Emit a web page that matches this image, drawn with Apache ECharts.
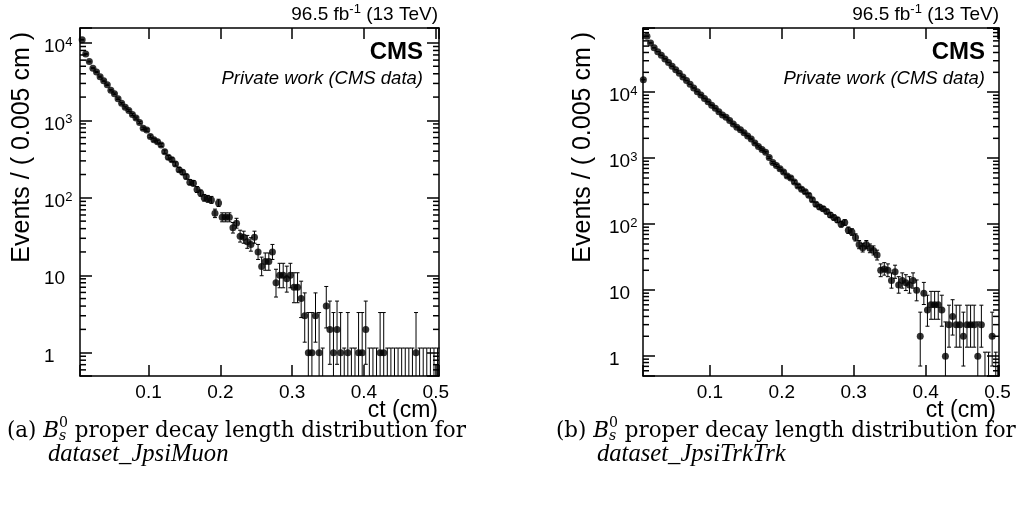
<!DOCTYPE html>
<html>
<head>
<meta charset="utf-8">
<script src="https://cdn.jsdelivr.net/npm/echarts@6.0.0/dist/echarts.min.js"></script>
<style>
html,body{margin:0;padding:0;background:#fff;}
#chart{width:1017px;height:505px;}
</style>
</head>
<body>
<div id="chart"></div>
<script>
// ---------------- data ----------------
const binCenters = [
  0.0075,0.0125,0.0175,0.0225,0.0275,0.0325,0.0375,0.0425,0.0475,0.0525,
  0.0575,0.0625,0.0675,0.0725,0.0775,0.0825,0.0875,0.0925,0.0975,0.1025,
  0.1075,0.1125,0.1175,0.1225,0.1275,0.1325,0.1375,0.1425,0.1475,0.1525,
  0.1575,0.1625,0.1675,0.1725,0.1775,0.1825,0.1875,0.1925,0.1975,0.2025,
  0.2075,0.2125,0.2175,0.2225,0.2275,0.2325,0.2375,0.2425,0.2475,0.2525,
  0.2575,0.2625,0.2675,0.2725,0.2775,0.2825,0.2875,0.2925,0.2975,0.3025,
  0.3075,0.3125,0.3175,0.3225,0.3275,0.3325,0.3375,0.3425,0.3475,0.3525,
  0.3575,0.3625,0.3675,0.3725,0.3775,0.3825,0.3875,0.3925,0.3975,0.4025,
  0.4075,0.4125,0.4175,0.4225,0.4275,0.4325,0.4375,0.4425,0.4475,0.4525,
  0.4575,0.4625,0.4675,0.4725,0.4775,0.4825,0.4875,0.4925,0.4975,0.5025
];
const countsJpsiMuon = [
  11000,7200,5750,4730,4220,3670,3240,2880,2450,2210,
  1905,1660,1480,1340,1190,1070,940,790,750,621,
  563,530,481,394,333,311,274,231,214,188,
  159,154,128,115,100,97,94,63,86,56,
  56,56,41,47,32,31,27,25,31,20,
  13,15,15,20,8,10,10,9,10,7,
  7,5,3,1,1,3,1,0,4,2,
  1,2,1,0,1,0,0,1,1,2,
  0,0,0,1,1,0,0,0,0,0,
  0,0,0,1,0,0,0,0,0,0
];
const countsJpsiTrkTrk = [
  15500,70500,55800,47000,41200,36300,32000,28200,24800,21900,
  19300,17000,15000,13200,11600,10200,9080,8050,7160,6370,
  5690,5070,4520,4170,3720,3310,2950,2690,2430,2160,
  1950,1700,1510,1350,1230,1020,860,776,692,617,
  537,501,436,380,339,309,275,234,200,182,
  171,155,138,126,116,100,106,81,76,63,
  49,44,49,43,40,34,20,21,20,14,
  19,12,14,13,12,14,10,2,9,5,
  6,6,6,5,1,3,4,3,3,2,
  3,3,3,1,3,0,0,2,0,0
];
const xTickLabels = ['0.1','0.2','0.3','0.4','0.5'];
const yMajorTicks = [1, 10, 100, 1000, 10000];
const yMinorTicksMuon = [0.6,0.7,0.8,0.9,2,3,4,5,6,7,8,9,20,30,40,50,60,70,80,90,
  200,300,400,500,600,700,800,900,2000,3000,4000,5000,6000,7000,8000,9000];
const yMinorTicksTrk = [0.6,0.7,0.8,0.9,2,3,4,5,6,7,8,9,20,30,40,50,60,70,80,90,
  200,300,400,500,600,700,800,900,2000,3000,4000,5000,6000,7000,8000,9000,
  20000,30000,40000,50000,60000,70000,80000,90000];
// 68% Poisson intervals for small counts (RooFit convention for n = 0)
const poissonLo = [0, 0.173, 0.708, 1.367, 2.086, 2.840, 3.620, 4.419, 5.232, 6.057, 6.891];
const poissonHi = [1.148, 3.300, 4.638, 5.918, 7.163, 8.383, 9.584, 10.77, 11.95, 13.11, 14.27];

// ---------------- helpers ----------------
const SANS = '"Liberation Sans", Arial, Helvetica, sans-serif';
const SERIF = '"DejaVu Serif", "Liberation Serif", serif';
const SERIF2 = '"Liberation Serif", "DejaVu Serif", serif';
function errLo(n){ return n <= 10 ? poissonLo[n] : n + 0.5 - Math.sqrt(n + 0.25); }
function errHi(n){ return n <= 10 ? poissonHi[n] : n + 0.5 + Math.sqrt(n + 0.25); }

const mctx = document.createElement('canvas').getContext('2d');
function tw(t, f){ mctx.font = f; return mctx.measureText(t).width; }
function fnt(size, fam, opt){ opt = opt || {}; return (opt.italic ? 'italic ' : '') + (opt.bold ? 'bold ' : '') + size.toFixed(2) + 'px ' + fam; }
function lineWidth(segs){
  let gStart = 0, gW = 0;
  segs.forEach(s => { const w = tw(s.text, s.font); if (s.stack) gW = Math.max(gW, w); else { gStart += gW; gW = w; } });
  return gStart + gW;
}
function layoutLine(segs, x, y, align){
  let gStart = 0, gW = 0; const placed = [];
  segs.forEach(s => {
    const w = tw(s.text, s.font);
    if (s.stack) { placed.push([s, gStart]); gW = Math.max(gW, w); }
    else { gStart = gStart + gW; gW = w; placed.push([s, gStart]); }
  });
  const total = gStart + gW;
  const x0 = align === 'right' ? x - total : (align === 'center' ? x - total / 2 : x);
  return placed.map(([s, off]) => ({
    type: 'text', x: x0 + off, y: y + (s.dy || 0), silent: true,
    style: { text: s.text, font: s.font, fill: '#000', align: 'left', verticalAlign: 'middle',
             textAlign: 'left', textVerticalAlign: 'middle' }
  }));
}

// ---------------- panels ----------------
const panels = [
  { grid: {left: 80, top: 28, width: 359, height: 348}, xMin: 0.0045, xMax: 0.5045, yMin: 0.5, yMax: 15600,
    counts: countsJpsiMuon, minor: yMinorTicksMuon, labelMargin: 36 },
  { grid: {left: 643, top: 28, width: 356, height: 348}, xMin: 0.007, xMax: 0.502, yMin: 0.5, yMax: 94000,
    counts: countsJpsiTrkTrk, minor: yMinorTicksTrk, labelMargin: 34 }
];

const grids = [], xAxes = [], yAxes = [], series = [];
const axLine = {color: '#000', width: 1.5};
panels.forEach((p, i) => {
  grids.push(Object.assign({containLabel: false}, p.grid));
  const xBase = { gridIndex: i, type: 'value', min: p.xMin, max: p.xMax, splitNumber: 5,
    splitLine: {show: false}, axisLine: {show: true, onZero: false, lineStyle: axLine},
    axisTick: {show: true, inside: true, length: 11, lineStyle: axLine} };
  xAxes.push(Object.assign({}, xBase, { position: 'bottom',
    axisLabel: { show: true, color: '#000', fontFamily: SANS, fontSize: 19, margin: 7,
      formatter: v => { const s = v.toFixed(1); return (xTickLabels.indexOf(s) >= 0 && Math.abs(v - parseFloat(s)) < 1e-9) ? s : ''; } } }));
  xAxes.push(Object.assign({}, xBase, { position: 'top', axisLabel: {show: false} }));
  const yBase = { gridIndex: i, type: 'log', logBase: 10, min: p.yMin, max: p.yMax, splitNumber: 5,
    splitLine: {show: false}, axisLine: {show: true, onZero: false, lineStyle: axLine},
    axisTick: {show: true, inside: true, length: 12, lineStyle: axLine} };
  yAxes.push(Object.assign({}, yBase, { position: 'left',
    axisLabel: { show: true, color: '#000', fontFamily: SANS, fontSize: 19, align: 'left', margin: p.labelMargin,
      padding: [8, 0, 0, 0],
      formatter: v => {
        const m = yMajorTicks.find(t => Math.abs(v / t - 1) < 1e-6);
        if (m === undefined) return '';
        const e = Math.round(Math.log10(m));
        if (e === 0) return '1';
        if (e === 1) return '10';
        return '10{sup|' + e + '}';
      },
      rich: { sup: { fontSize: 13, fontFamily: SANS, color: '#000', padding: [0, 0, 9, 0] } } } }));
  yAxes.push(Object.assign({}, yBase, { position: 'right', axisLabel: {show: false} }));

  const xi = i * 2, yi = i * 2;
  const pts = [], errs = [];
  p.counts.forEach((n, k) => {
    const x = binCenters[k];
    if (x < p.xMin || x > p.xMax) return;
    if (n > 0) pts.push([x, n]);
    const lo = errLo(n), hi = errHi(n);
    errs.push([x, Math.max(lo, p.yMin), Math.min(hi, p.yMax), lo >= p.yMin ? 1 : 0, hi <= p.yMax ? 1 : 0]);
  });
  const st = {stroke: '#000', lineWidth: 1};
  series.push({ type: 'custom', xAxisIndex: xi, yAxisIndex: yi, data: errs, z: 2, silent: true,
    renderItem: (params, api) => {
      const x = api.value(0);
      const a = api.coord([x, api.value(1)]), b = api.coord([x, api.value(2)]);
      const ch = [{type: 'line', shape: {x1: a[0], y1: a[1], x2: b[0], y2: b[1]}, style: st}];
      if (api.value(4)) ch.push({type: 'line', shape: {x1: b[0] - 2, y1: b[1], x2: b[0] + 2, y2: b[1]}, style: st});
      if (api.value(3)) ch.push({type: 'line', shape: {x1: a[0] - 2, y1: a[1], x2: a[0] + 2, y2: a[1]}, style: st});
      return {type: 'group', children: ch};
    } });
  series.push({ type: 'scatter', xAxisIndex: xi, yAxisIndex: yi, data: pts, symbol: 'circle', symbolSize: 7,
    itemStyle: {color: '#000'}, z: 3, silent: true });
  const mst = {stroke: '#000', lineWidth: 1.5};
  series.push({ type: 'custom', xAxisIndex: xi, yAxisIndex: yi, data: p.minor.map(v => [p.xMin, v]), z: 4, silent: true,
    renderItem: (params, api) => {
      const v = api.value(1);
      const a = api.coord([p.xMin, v]), b = api.coord([p.xMax, v]);
      return {type: 'group', children: [
        {type: 'line', shape: {x1: a[0], y1: a[1], x2: a[0] + 6, y2: a[1]}, style: mst},
        {type: 'line', shape: {x1: b[0], y1: b[1], x2: b[0] - 6, y2: b[1]}, style: mst}
      ]};
    } });
});

// ---------------- texts ----------------
const g = [];
const lumiRight = [438, 999], cmsRight = [423, 985], ctRight = [438, 996], yTitleX = [22, 583];
const captionX = [7, 556], caption2X = [48, 597];
const captionTag = ['(a) ', '(b) '], datasetNames = ['dataset_JpsiMuon', 'dataset_JpsiTrkTrk'];
const captionLine1Width = 459;

function captionSegs(tag, s){
  return [
    {text: tag, font: fnt(s, SERIF)},
    {text: 'B', font: fnt(s, SERIF, {italic: true})},
    {text: '0', font: fnt(s * 0.66, SERIF), dy: -s * 0.38},
    {text: 's', font: fnt(s * 0.66, SERIF, {italic: true}), dy: s * 0.25, stack: true},
    {text: ' proper decay length distribution for', font: fnt(s, SERIF)}
  ];
}
const cap1Size = 20 * captionLine1Width / lineWidth(captionSegs('(a) ', 20));
const cap2Size = cap1Size * 1.15;

for (let i = 0; i < 2; i++) {
  g.push(...layoutLine([
    {text: '96.5 fb', font: fnt(19, SANS)},
    {text: '-1', font: fnt(13, SANS), dy: -6},
    {text: ' (13 TeV)', font: fnt(19, SANS)}
  ], lumiRight[i], 15, 'right'));
  g.push(...layoutLine([{text: 'CMS', font: fnt(24, SANS, {bold: true})}], cmsRight[i], 52, 'right'));
  g.push(...layoutLine([{text: 'Private work (CMS data)', font: fnt(18.5, SANS, {italic: true})}], cmsRight[i], 79, 'right'));
  g.push(...layoutLine([{text: 'ct (cm)', font: fnt(23, SANS)}], ctRight[i], 411, 'right'));
  g.push({ type: 'text', x: yTitleX[i], y: 32, rotation: Math.PI / 2, silent: true,
    style: { text: 'Events / ( 0.005 cm )', font: fnt(25, SANS), fill: '#000', align: 'right', verticalAlign: 'middle',
             textAlign: 'right', textVerticalAlign: 'middle' } });
  g.push(...layoutLine(captionSegs(captionTag[i], cap1Size), captionX[i], 431, 'left'));
  g.push(...layoutLine([{text: datasetNames[i], font: fnt(cap2Size, SERIF2, {italic: true})}], caption2X[i], 455, 'left'));
}

const chart = echarts.init(document.getElementById('chart'), null, {renderer: 'canvas'});
chart.setOption({
  backgroundColor: '#fff',
  animation: false,
  grid: grids,
  xAxis: xAxes,
  yAxis: yAxes,
  series: series,
  graphic: {elements: g}
});
</script>
</body>
</html>
